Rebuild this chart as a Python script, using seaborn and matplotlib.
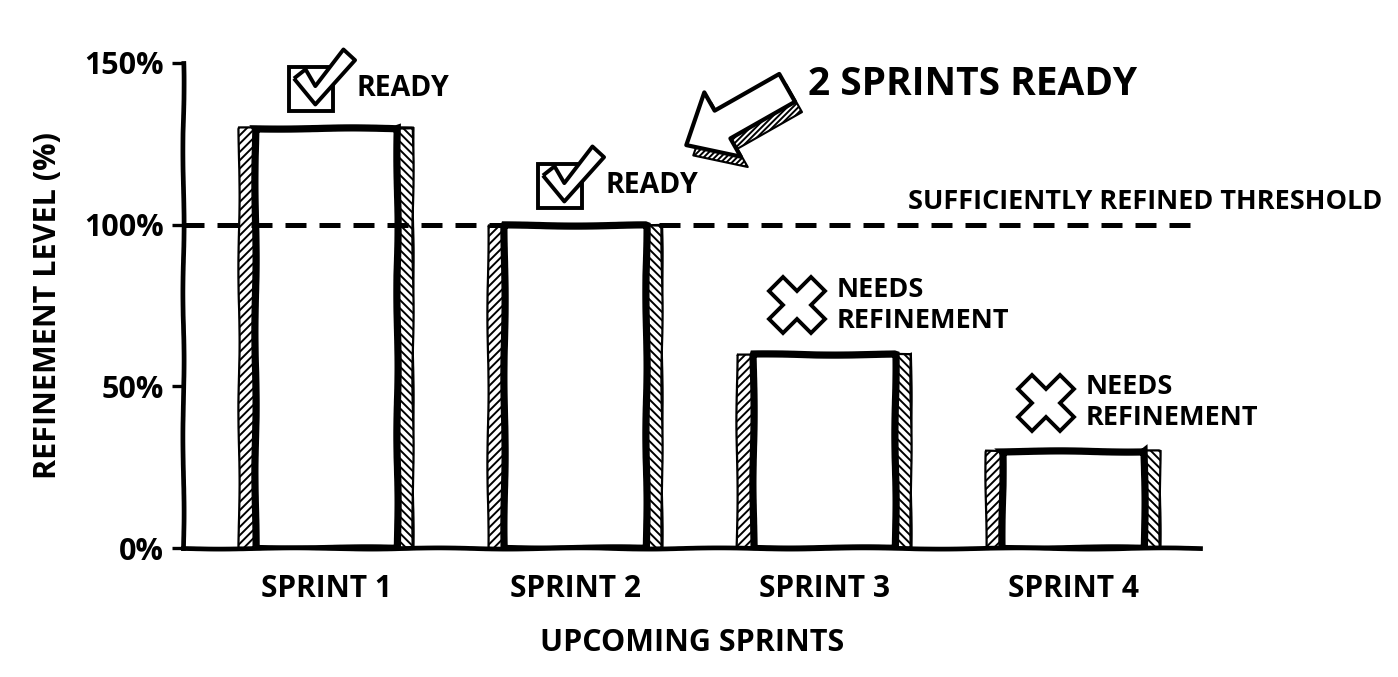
"""
plot.py — Sprint backlog refinement levels, sketch style.
Writes: out.png
"""

import matplotlib
matplotlib.use("Agg")
import matplotlib.pyplot as plt
from matplotlib.patches import Rectangle, FancyArrowPatch
import seaborn as sns

# ─── Data ─────────────────────────────────────────────────────────────────────
SPRINTS       = ["SPRINT 1", "SPRINT 2", "SPRINT 3", "SPRINT 4"]
REFINEMENT    = [130, 100, 60, 30]
STATUS        = ["READY", "READY", "NEEDS\nREFINEMENT", "NEEDS\nREFINEMENT"]
THRESHOLD     = 100
Y_TICKS       = [0, 50, 100, 150]
Y_TICK_LABELS = ["0%", "50%", "100%", "150%"]

OUT_PATH = "out.png"
INK      = "black"
FONT     = ["Open Sans", "DejaVu Sans"]
SKETCH   = (0.6, 160, 2)

# check mark marker outline (unit shape, matplotlib rescales it)
CHECK = [(-1.0, 0.0), (-0.30, -0.85), (1.00, 0.60), (0.62, 0.95),
         (-0.30, -0.25), (-0.62, 0.30), (-1.0, 0.0)]


# ─── Bars ─────────────────────────────────────────────────────────────────────
def draw_bars(ax):
    # outer hatched "shadow" bars
    sns.barplot(x=SPRINTS, y=REFINEMENT, width=0.70, color="white",
                saturation=1, edgecolor=INK, linewidth=1.6, hatch="////",
                errorbar=None, zorder=1, ax=ax)
    outer = list(ax.patches)
    for p in outer:
        half = Rectangle((p.get_x() + p.get_width() / 2, 0), p.get_width() / 2,
                         p.get_height(), facecolor="white", edgecolor=INK,
                         linewidth=1.6, hatch="\\\\\\\\", zorder=1.5)
        ax.add_patch(half)
        half.set_sketch_params(*SKETCH)
        p.set_sketch_params(*SKETCH)

    # inner bars with the heavy outline
    sns.barplot(x=SPRINTS, y=REFINEMENT, width=0.57, color="white",
                saturation=1, edgecolor=INK, linewidth=5.2,
                errorbar=None, zorder=2, ax=ax)
    for p in ax.patches[2 * len(outer):]:
        p.set_sketch_params(*SKETCH)


# ─── Status icons ─────────────────────────────────────────────────────────────
def draw_status(ax):
    for i, (val, status) in enumerate(zip(REFINEMENT, STATUS)):
        if val >= THRESHOLD:
            ix, iy = i - 0.06, val + 12
            ax.plot(ix, iy, marker="s", ms=31, mfc="white", mec=INK, mew=2.8,
                    clip_on=False, zorder=5)
            ax.plot(ix + 0.05, iy + 3.2, marker=CHECK, ms=44, mfc="white",
                    mec=INK, mew=2.8, clip_on=False, zorder=6)
            ax.text(ix + 0.18, iy, status, fontsize=20.5, fontweight="bold",
                    ha="left", va="center", zorder=6)
        else:
            ix, iy = i - 0.11, val + 15
            ax.plot(ix, iy, marker="X", ms=40, mfc="white", mec=INK, mew=2.8,
                    clip_on=False, zorder=5)
            ax.text(ix + 0.16, iy, status, fontsize=19.5, fontweight="bold",
                    ha="left", va="center", linespacing=1.25, zorder=6)


# ─── Callout arrow ────────────────────────────────────────────────────────────
def draw_callout(ax):
    tail, tip = (1.851, 142.3), (1.446, 124.6)
    style = "simple,head_length=1.5,head_width=2.66,tail_width=1.15"
    shadow = FancyArrowPatch((tail[0] + 0.028, tail[1] - 3.2),
                             (tip[0] + 0.028, tip[1] - 3.2),
                             arrowstyle=style, mutation_scale=20,
                             shrinkA=0, shrinkB=0, facecolor="white",
                             edgecolor=INK, linewidth=1.5, hatch="//////",
                             clip_on=False, zorder=6)
    arrow = FancyArrowPatch(tail, tip, arrowstyle=style, mutation_scale=20,
                            shrinkA=0, shrinkB=0, facecolor="white",
                            edgecolor=INK, linewidth=3.0, clip_on=False,
                            zorder=7)
    ax.add_patch(shadow)
    ax.add_patch(arrow)
    ax.text(1.936, 143.2, f"{sum(v >= THRESHOLD for v in REFINEMENT)} SPRINTS READY",
            fontsize=28, fontweight="bold", ha="left", va="center",
            clip_on=False, zorder=7)


# ─── Main ─────────────────────────────────────────────────────────────────────
def run_plot():
    sns.set_style("white")
    plt.rcParams["font.family"] = FONT
    plt.rcParams["hatch.linewidth"] = 1.4
    for key in ("text.color", "axes.labelcolor", "xtick.color", "ytick.color"):
        plt.rcParams[key] = INK

    fig = plt.figure(figsize=(13.98, 6.77), dpi=100)
    ax = fig.add_axes([0.131, 0.1905, 0.7275, 0.7165])

    draw_bars(ax)

    # threshold line drawn over the bars
    ax.axhline(THRESHOLD, color=INK, lw=3.6, ls=(0, (4.2, 2.6)), zorder=4)
    ax.text(4.24, THRESHOLD + 7, "SUFFICIENTLY REFINED THRESHOLD", fontsize=19.5,
            fontweight="bold", ha="right", va="center", clip_on=False)

    draw_status(ax)
    draw_callout(ax)

    ax.set_xlim(-0.575, 3.51)
    ax.set_ylim(0, 150)
    ax.set_yticks(Y_TICKS, Y_TICK_LABELS)
    ax.tick_params(axis="y", length=8, width=2.4, pad=6, labelsize=22,
                   color=INK, left=True)
    ax.tick_params(axis="x", length=0, pad=19, labelsize=21.5)
    for lab in ax.get_xticklabels() + ax.get_yticklabels():
        lab.set_fontweight("bold")

    ax.set_xlabel("UPCOMING SPRINTS", fontsize=22, fontweight="bold",
                  labelpad=17)
    ax.set_ylabel("REFINEMENT LEVEL (%)", fontsize=22, fontweight="bold",
                  labelpad=15)

    sns.despine(ax=ax)
    for side in ("left", "bottom"):
        ax.spines[side].set_linewidth(3.4)
        ax.spines[side].set_color(INK)
        ax.spines[side].set_sketch_params(*SKETCH)
        ax.spines[side].set_zorder(5)

    fig.savefig(OUT_PATH, dpi=100)
    plt.close(fig)


if __name__ == "__main__":
    run_plot()
